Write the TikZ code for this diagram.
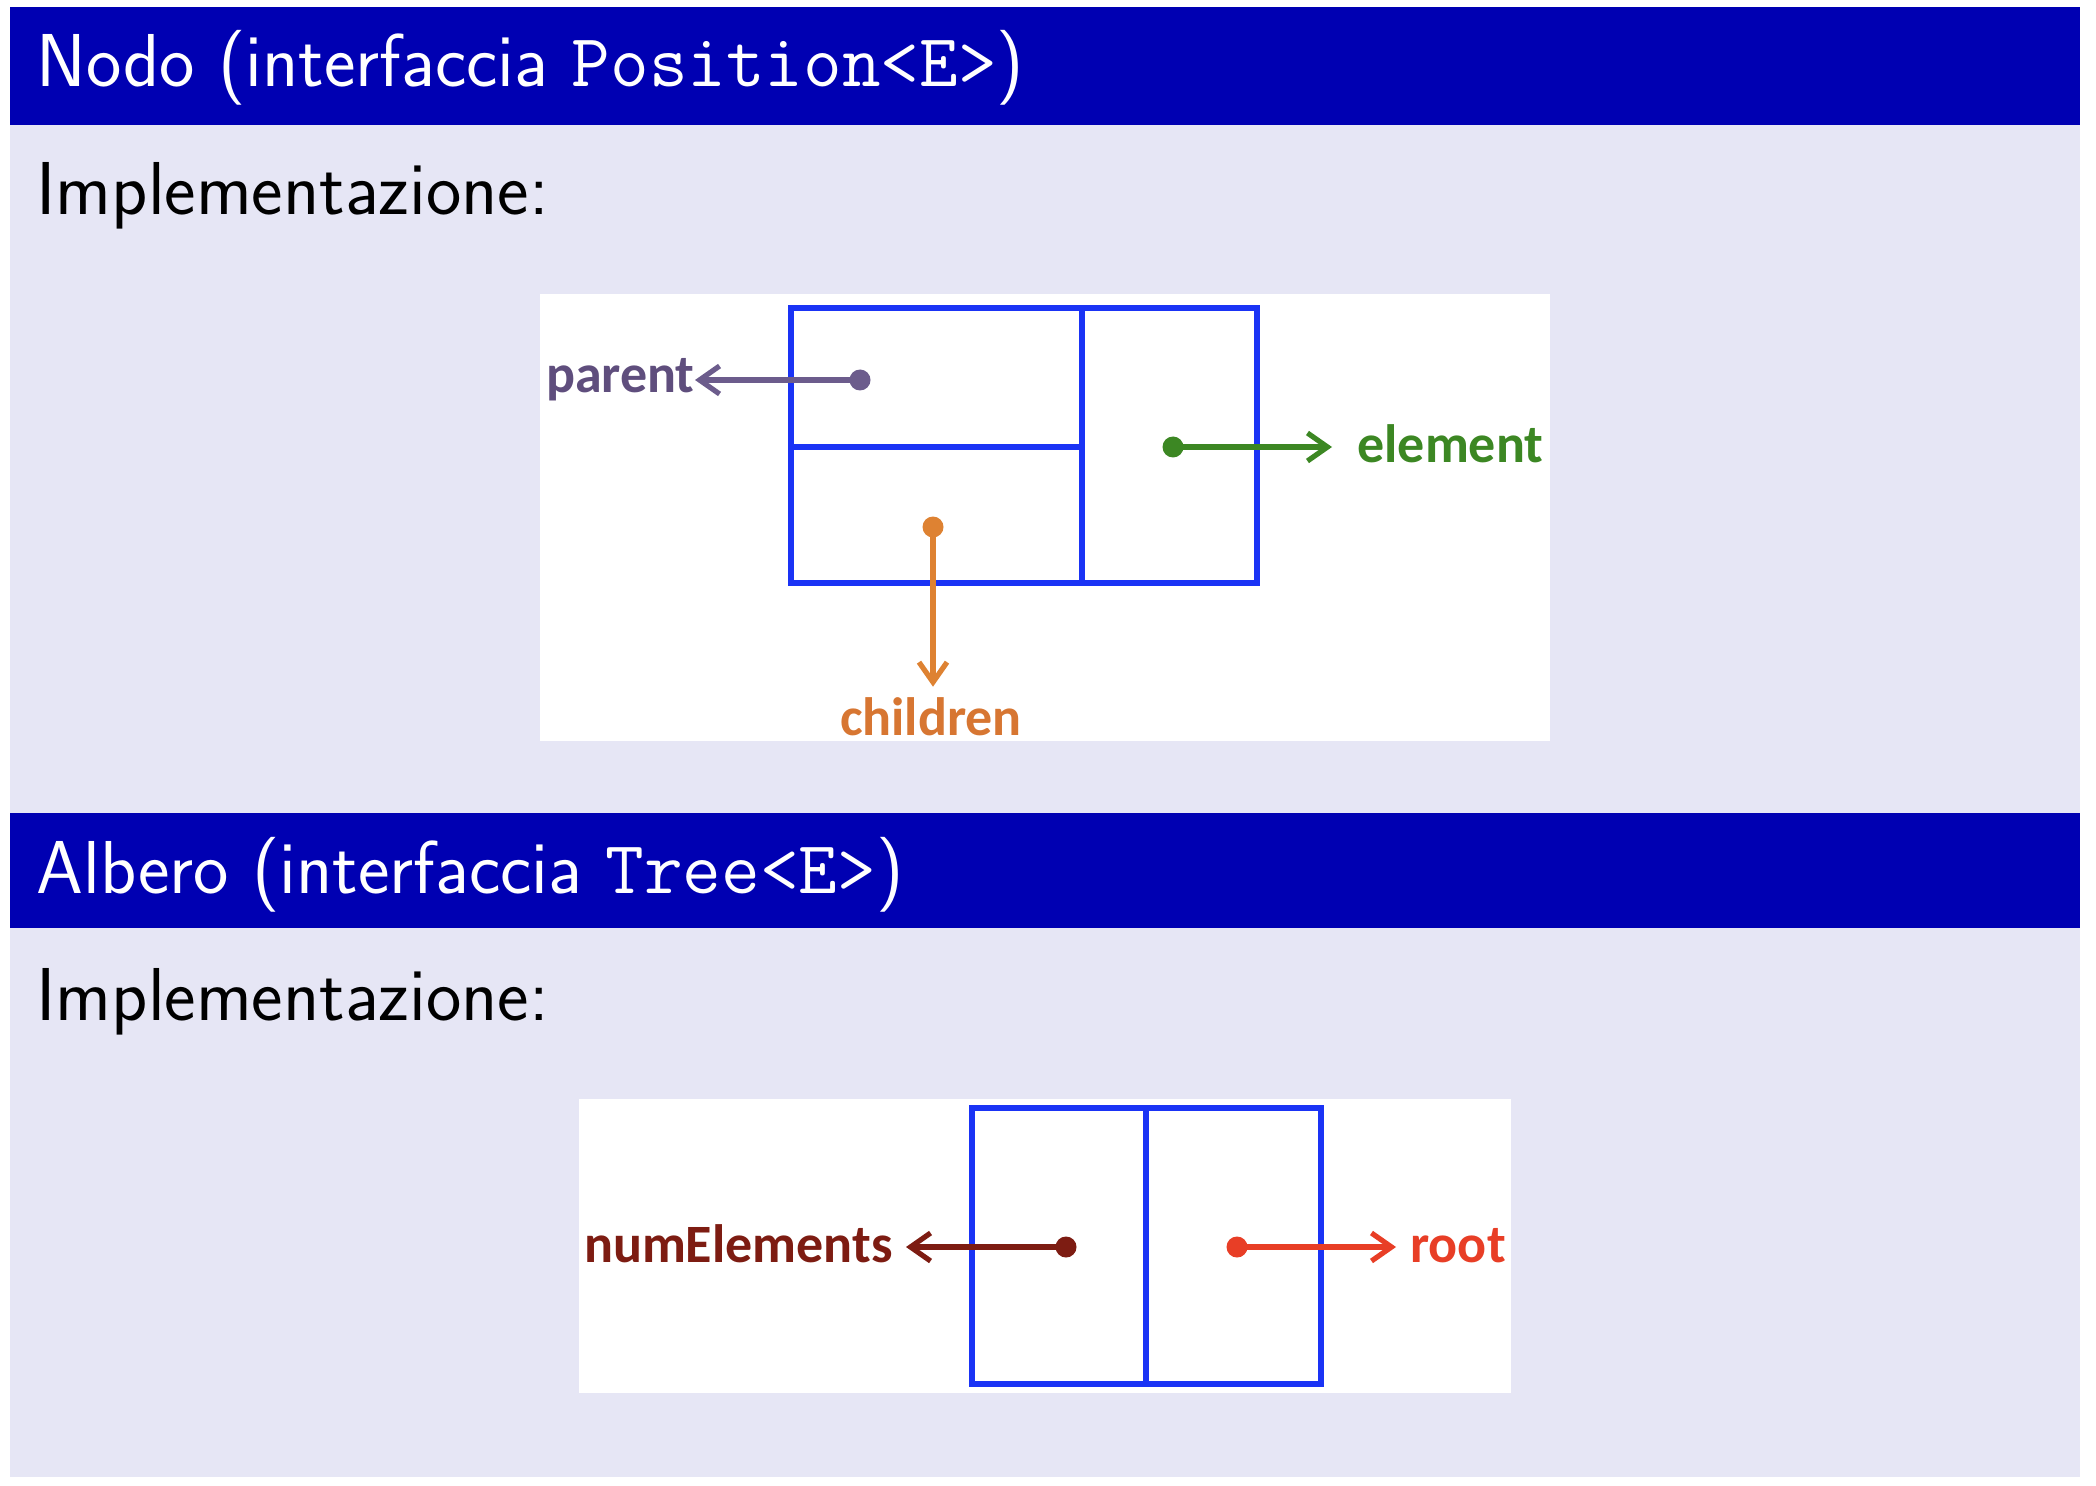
\documentclass[tikz,border=0pt]{standalone}
\usepackage{fontspec}
\newfontfamily\labfont{Carlito}
\usetikzlibrary{arrows.meta}
\definecolor{barblue}{RGB}{0,0,178}
\definecolor{lav}{RGB}{230,230,245}
\definecolor{boxblue}{RGB}{26,51,245}
\definecolor{parentc}{RGB}{108,92,140}
\definecolor{parentt}{RGB}{95,78,125}
\definecolor{elemc}{RGB}{60,135,35}
\definecolor{childc}{RGB}{222,130,50}
\definecolor{childt}{RGB}{215,118,50}
\definecolor{numc}{RGB}{125,28,18}
\definecolor{rootc}{RGB}{232,62,38}
\begin{document}
\begin{tikzpicture}[x=0.5pt,y=-0.5pt,
  hdr/.style={anchor=base west, inner sep=0, text=white, font=\sffamily\fontsize{37.5}{42}\selectfont},
  body/.style={anchor=base west, inner sep=0, text=black, font=\sffamily\fontsize{37.5}{42}\selectfont},
  lab/.style={inner sep=0, font=\labfont\bfseries\fontsize{27}{30}\selectfont},
  dotn/.style={circle, inner sep=0, minimum size=10.5pt},
  ptr/.style={line width=2.6pt, -{Straight Barb[length=10pt,width=14pt]}},
  cell/.style={draw=boxblue, line width=3.1pt}]
\useasboundingbox (0,0) rectangle (2096,1486);
\fill[white] (0,0) rectangle (2096,1486);
\fill[lav] (10,7) rectangle (2080,1477);
\fill[barblue] (10,7) rectangle (2080,125);
\fill[barblue] (10,813) rectangle (2080,928);
\fill[white] (540,294) rectangle (1550,741);
\fill[white] (579,1099) rectangle (1511,1393);

\node[hdr] (t1) at (36,87) {Nodo (interfaccia \texttt{Position<E>})};
\node[body] (i1) at (36,215) {Implementazione:};
\node[hdr] (t2) at (36,893) {Albero (interfaccia \texttt{Tree<E>})};
\node[body] (i2) at (36,1020) {Implementazione:};

% node box
\draw[cell] (791,308) rectangle (1257,583);
\draw[cell] (1082,308) -- (1082,583);
\draw[cell] (791,447) -- (1082,447);

\node[dotn, fill=parentc] (pd) at (860,380) {};
\node[lab, text=parentt, anchor=base east] (pl) at (695,393) {parent};
\draw[ptr, parentc] (pd.center) -- (pd -| pl.east);

\node[dotn, fill=elemc] (ed) at (1173,447) {};
\node[lab, text=elemc, anchor=base west] (el) at (1357,462) {element};
\draw[ptr, elemc, shorten >=12.5pt] (ed.center) -- (ed -| el.west);

\node[dotn, fill=childc] (cd) at (933,527) {};
\node[lab, text=childt, anchor=base] (cl) at (931,735) {children};
\draw[ptr, childc, shorten >=5pt] (cd.center) -- (cd |- cl.north);

% tree box
\draw[cell] (972,1108) rectangle (1321,1384);
\draw[cell] (1146,1108) -- (1146,1384);

\node[dotn, fill=numc] (nd) at (1066,1247) {};
\node[lab, text=numc, anchor=base east] (nl) at (893,1262) {numElements};
\draw[ptr, numc, shorten >=6.5pt] (nd.center) -- (nd -| nl.east);

\node[dotn, fill=rootc] (rd) at (1237,1247) {};
\node[lab, text=rootc, anchor=base west] (rl) at (1410,1262) {root};
\draw[ptr, rootc, shorten >=7pt] (rd.center) -- (rd -| rl.west);
\end{tikzpicture}
\end{document}
